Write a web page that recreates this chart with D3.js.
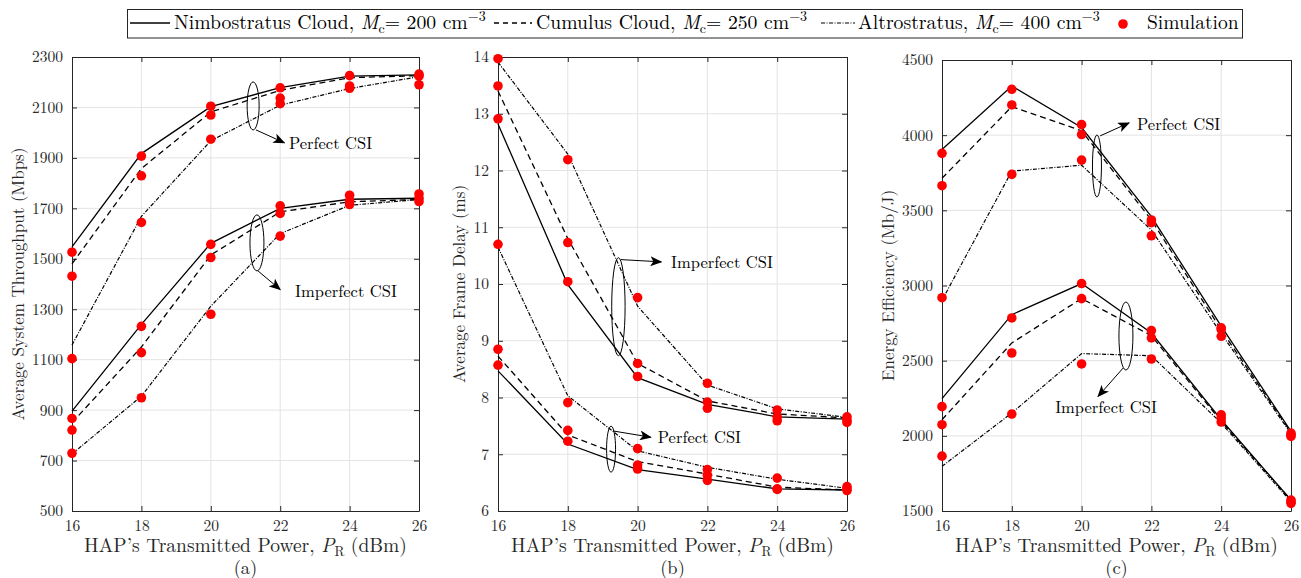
<!DOCTYPE html>
<html>
<head>
<meta charset="utf-8">
<script src="https://cdn.jsdelivr.net/npm/d3@7/dist/d3.min.js"></script>
<style>
  html, body { margin: 0; padding: 0; background: #fff; }
</style>
</head>
<body>
<svg id="chart" width="1301" height="578"></svg>
<script>
// ---------------- DATA ----------------
const powers = [16, 18, 20, 22, 24, 26];
const xTicks = [16, 18, 20, 22, 24, 26];
const clouds = ["Nimbostratus Cloud", "Cumulus Cloud", "Altrostratus"];
const cloudDensity = [200, 250, 400];

// (a) Average System Throughput (Mbps)  rows: Nimbostratus, Cumulus, Altrostratus
const throughputPerfectTheory = [
  [1547, 1917, 2103, 2179, 2224, 2229],
  [1480, 1858, 2082, 2168, 2218, 2226],
  [1158, 1668, 1968, 2109, 2175, 2222]
];
const throughputPerfectSim = [
  [1526, 1907, 2105, 2178, 2226, 2232],
  [1431, 1829, 2070, 2137, 2185, 2224],
  [1104, 1644, 1974, 2115, 2176, 2190]
];
const throughputImperfectTheory = [
  [896, 1240, 1561, 1700, 1736, 1740],
  [850, 1150, 1515, 1686, 1726, 1735],
  [726, 955, 1312, 1600, 1712, 1735]
];
const throughputImperfectSim = [
  [867, 1232, 1557, 1710, 1752, 1757],
  [821, 1128, 1505, 1680, 1730, 1740],
  [729, 949, 1280, 1590, 1715, 1727]
];
const throughputTicks = [500, 700, 900, 1100, 1300, 1500, 1700, 1900, 2100, 2300];

// (b) Average Frame Delay (ms)
const delayImperfectTheory = [
  [12.82, 9.99, 8.35, 7.88, 7.66, 7.62],
  [13.40, 10.80, 8.60, 7.94, 7.71, 7.64],
  [13.91, 12.29, 9.61, 8.22, 7.80, 7.65]
];
const delayImperfectSim = [
  [12.91, 10.04, 8.37, 7.81, 7.59, 7.56],
  [13.49, 10.73, 8.60, 7.92, 7.66, 7.60],
  [13.97, 12.19, 9.76, 8.25, 7.78, 7.66]
];
const delayPerfectTheory = [
  [8.47, 7.18, 6.73, 6.56, 6.39, 6.37],
  [8.73, 7.34, 6.87, 6.65, 6.42, 6.37],
  [10.65, 8.03, 7.06, 6.77, 6.56, 6.40]
];
const delayPerfectSim = [
  [8.57, 7.23, 6.74, 6.54, 6.38, 6.36],
  [8.85, 7.42, 6.81, 6.63, 6.39, 6.39],
  [10.70, 7.91, 7.10, 6.73, 6.58, 6.43]
];
const delayTicks = [6, 7, 8, 9, 10, 11, 12, 13, 14];

// (c) Energy Efficiency (Mb/J)
const energyPerfectTheory = [
  [3905, 4327, 4051, 3458, 2730, 2030],
  [3713, 4190, 4029, 3436, 2705, 2022],
  [2902, 3761, 3800, 3369, 2680, 2015]
];
const energyPerfectSim = [
  [3879, 4305, 4070, 3436, 2718, 2018],
  [3664, 4201, 4004, 3418, 2707, 2007],
  [2919, 3739, 3834, 3331, 2662, 1996]
];
const energyImperfectTheory = [
  [2247, 2806, 3013, 2684, 2107, 1573],
  [2107, 2618, 2913, 2666, 2096, 1573],
  [1797, 2152, 2547, 2533, 2085, 1562]
];
const energyImperfectSim = [
  [2194, 2784, 3013, 2700, 2140, 1573],
  [2074, 2551, 2913, 2651, 2118, 1562],
  [1865, 2145, 2478, 2511, 2092, 1551]
];
const energyTicks = [1500, 2000, 2500, 3000, 3500, 4000, 4500];

// --------------- STYLE / LAYOUT ---------------
const FONT = "Latin Modern Roman";
const dashStyles = [null, "6,4", "4,1.5,1,1.5"];
const dashWidths = [1.3, 1.3, 1.2];
const textColor = "#262626";
const gridColor = "#e3e3e3";

const panels = [
  { id: "(a)", left: 72, right: 419, top: 57, bottom: 511, domain: [500, 2300], ticks: throughputTicks,
    ylabel: "Average System Throughput (Mbps)", ylabelX: 18,
    sets: [[throughputPerfectTheory, throughputPerfectSim], [throughputImperfectTheory, throughputImperfectSim]],
    notes: [
      { cx: 21.22, cy: 2106, rx: 6, ry: 24, ax1: 21.30, ay1: 2011, ax2: 22.12, ay2: 1960, tx: 22.25, ty: 1959, text: "Perfect CSI", anchor: "start" },
      { cx: 21.33, cy: 1563, rx: 7, ry: 28, ax1: 21.36, ay1: 1452, ax2: 22.0, ay2: 1378, tx: 22.43, ty: 1372, text: "Imperfect CSI", anchor: "start" }
    ] },
  { id: "(b)", left: 498, right: 847, top: 57, bottom: 511, domain: [6, 14], ticks: delayTicks,
    ylabel: "Average Frame Delay (ms)", ylabelX: 459,
    sets: [[delayImperfectTheory, delayImperfectSim], [delayPerfectTheory, delayPerfectSim]],
    notes: [
      { cx: 19.45, cy: 9.6, rx: 6.7, ry: 49, ax1: 19.52, ay1: 10.43, ax2: 20.68, ay2: 10.39, tx: 20.96, ty: 10.39, text: "Imperfect CSI", anchor: "start" },
      { cx: 19.24, cy: 7.09, rx: 4.5, ry: 23, ax1: 19.3, ay1: 7.41, ax2: 20.38, ay2: 7.30, tx: 20.58, ty: 7.30, text: "Perfect CSI", anchor: "start" }
    ] },
  { id: "(c)", left: 942, right: 1291, top: 60, bottom: 511, domain: [1500, 4500], ticks: energyTicks,
    ylabel: "Energy Efficiency (Mb/J)", ylabelX: 888,
    sets: [[energyPerfectTheory, energyPerfectSim], [energyImperfectTheory, energyImperfectSim]],
    notes: [
      { cx: 20.44, cy: 3795, rx: 4.5, ry: 31, ax1: 20.53, ay1: 3995, ax2: 21.36, ay2: 4082, tx: 21.59, ty: 4075, text: "Perfect CSI", anchor: "start" },
      { cx: 21.27, cy: 2664, rx: 7, ry: 34, ax1: 21.19, ay1: 2451, ax2: 20.47, ay2: 2262, tx: 20.70, ty: 2192, text: "Imperfect CSI", anchor: "middle" }
    ] }
];

const svg = d3.select("#chart").style("font-family", FONT);

// arrow marker
svg.append("defs").append("marker")
  .attr("id", "arrow").attr("viewBox", "0 0 12 10").attr("refX", 11).attr("refY", 5)
  .attr("markerWidth", 12).attr("markerHeight", 10).attr("markerUnits", "userSpaceOnUse")
  .attr("orient", "auto")
  .append("path").attr("d", "M0,0 L12,5 L0,10 L3,5 Z").attr("fill", "#000");

function txt(sel) { return sel.style("font-family", FONT); }

panels.forEach(p => {
  const x = d3.scaleLinear().domain([16, 26]).range([p.left, p.right]);
  const y = d3.scaleLinear().domain(p.domain).range([p.bottom, p.top]);
  const g = svg.append("g");

  // grid
  g.append("g").selectAll("line.vg").data(xTicks.slice(1, -1)).join("line")
    .attr("x1", d => x(d)).attr("x2", d => x(d)).attr("y1", p.top).attr("y2", p.bottom)
    .attr("stroke", gridColor).attr("stroke-width", 1);
  g.append("g").selectAll("line.hg").data(p.ticks.slice(1, -1)).join("line")
    .attr("y1", d => y(d)).attr("y2", d => y(d)).attr("x1", p.left).attr("x2", p.right)
    .attr("stroke", gridColor).attr("stroke-width", 1);

  // axes
  const fmt = d3.format("d");
  const axB = d3.axisBottom(x).tickValues(xTicks).tickSize(-5).tickPadding(8.5).tickSizeOuter(0).tickFormat(fmt);
  const axT = d3.axisTop(x).tickValues(xTicks).tickSize(-5).tickFormat("").tickSizeOuter(0);
  const axL = d3.axisLeft(y).tickValues(p.ticks).tickSize(-5).tickPadding(9).tickSizeOuter(0).tickFormat(fmt);
  const axR = d3.axisRight(y).tickValues(p.ticks).tickSize(-5).tickFormat("").tickSizeOuter(0);
  [[axB, `translate(0,${p.bottom})`], [axT, `translate(0,${p.top})`], [axL, `translate(${p.left},0)`], [axR, `translate(${p.right},0)`]]
    .forEach(([ax, tr]) => {
      const a = g.append("g").attr("transform", tr).call(ax);
      a.selectAll("path,line").attr("stroke", textColor).attr("stroke-width", 1);
      txt(a.selectAll("text")).attr("fill", textColor).style("font-size", "15.5px");
    });

  // lines
  const line = d3.line().x((d, i) => x(powers[i])).y(d => y(d));
  p.sets.forEach(([theory, sim]) => {
    theory.forEach((vals, k) => {
      g.append("path").datum(vals).attr("d", line).attr("fill", "none")
        .attr("stroke", "#000").attr("stroke-width", dashWidths[k])
        .attr("stroke-dasharray", dashStyles[k]);
    });
  });
  p.sets.forEach(([theory, sim]) => {
    sim.forEach(vals => {
      g.append("g").selectAll("circle").data(vals).join("circle")
        .attr("cx", (d, i) => x(powers[i])).attr("cy", d => y(d)).attr("r", 4.8)
        .attr("fill", "#ff0000");
    });
  });

  // annotations
  p.notes.forEach(n => {
    g.append("ellipse").attr("cx", x(n.cx)).attr("cy", y(n.cy)).attr("rx", n.rx).attr("ry", n.ry)
      .attr("fill", "none").attr("stroke", "#000").attr("stroke-width", 1);
    g.append("line").attr("x1", x(n.ax1)).attr("y1", y(n.ay1)).attr("x2", x(n.ax2)).attr("y2", y(n.ay2))
      .attr("stroke", "#000").attr("stroke-width", 1).attr("marker-end", "url(#arrow)");
    txt(g.append("text")).attr("x", x(n.tx)).attr("y", y(n.ty)).attr("dy", "0.35em")
      .attr("text-anchor", n.anchor).style("font-size", "16.5px").attr("fill", "#000").text(n.text);
  });

  // x label
  const cx = (p.left + p.right) / 2;
  const xl = txt(g.append("text")).attr("x", cx).attr("y", 551.5).attr("text-anchor", "middle")
    .style("font-size", "19.5px").attr("fill", textColor);
  xl.append("tspan").text("HAP\u2019s Transmitted Power, ");
  xl.append("tspan").style("font-style", "italic").text("P");
  xl.append("tspan").attr("dy", 4).style("font-size", "13.5px").text("R");
  xl.append("tspan").attr("dy", -4).text(" (dBm)");
  txt(g.append("text")).attr("x", cx).attr("y", 574).attr("text-anchor", "middle")
    .style("font-size", "18.5px").attr("fill", textColor).text(p.id);

  // y label
  txt(g.append("text")).attr("transform", `translate(${p.ylabelX},${(p.top + p.bottom) / 2}) rotate(-90)`)
    .attr("text-anchor", "middle").attr("dy", "0.35em").style("font-size", "17px")
    .attr("fill", textColor).text(p.ylabel);
});

// ---------------- LEGEND ----------------
const leg = svg.append("g");
leg.append("rect").attr("x", 127.5).attr("y", 9.5).attr("width", 1115).attr("height", 28.5)
  .attr("fill", "#fff").attr("stroke", textColor).attr("stroke-width", 1);
const legX = [130, 494, 821];
const legLen = [40, 38, 34];
const legTextX = [174, 536, 858];
clouds.forEach((c, k) => {
  leg.append("line").attr("x1", legX[k]).attr("x2", legX[k] + legLen[k])
    .attr("y1", 23).attr("y2", 23).attr("stroke", "#000").attr("stroke-width", dashWidths[k])
    .attr("stroke-dasharray", k === 1 ? "5,4" : dashStyles[k]);
  const t = txt(leg.append("text")).attr("x", legTextX[k]).attr("y", 29).style("font-size", "19.7px").attr("fill", "#000");
  t.append("tspan").text(c + ", ");
  t.append("tspan").style("font-style", "italic").text("M");
  t.append("tspan").attr("dy", 4).style("font-size", "14px").text("c");
  t.append("tspan").attr("dy", -4).text("= " + cloudDensity[k] + " cm");
  t.append("tspan").attr("dy", -8).style("font-size", "14px").text("\u22123");
});
leg.append("circle").attr("cx", 1123).attr("cy", 24).attr("r", 4.8).attr("fill", "#ff0000");
txt(leg.append("text")).attr("x", 1147).attr("y", 29).style("font-size", "19.5px").attr("fill", "#000").text("Simulation");
</script>
</body>
</html>
